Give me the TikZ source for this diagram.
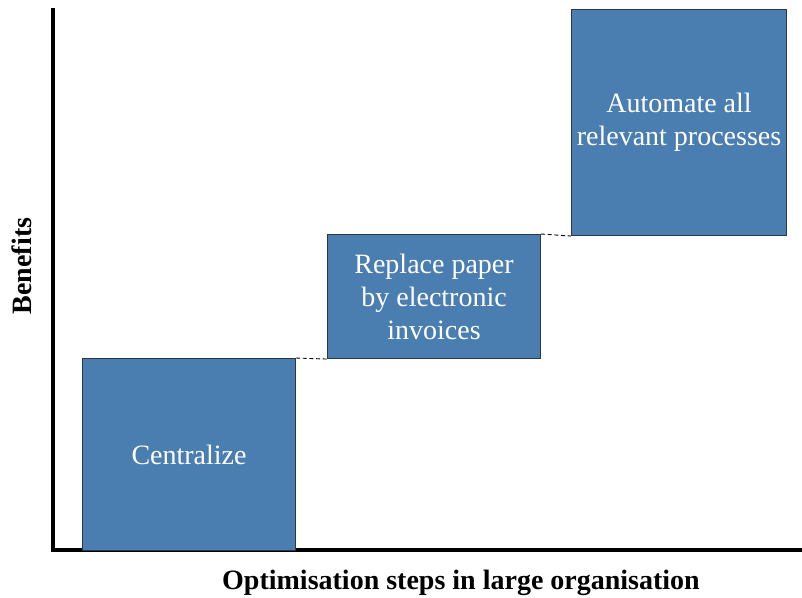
\documentclass[tikz,border=0pt]{standalone}
\usepackage{fontspec}
\setmainfont{Liberation Serif}
\usepackage{tikz}
\usetikzlibrary{positioning, calc}

\definecolor{stepblue}{RGB}{74,126,176}
\definecolor{stepedge}{RGB}{45,55,68}

\begin{document}
\begin{tikzpicture}[x=0.75pt, y=-0.75pt]
            % Define styles
            \tikzstyle{stepbox} = [rectangle, draw=stepedge, line width=0.8pt, fill=stepblue, text=white, align=center, anchor=north west, inner sep=0pt, font=\fontsize{21}{24.75}\selectfont]
            \tikzstyle{axis} = [draw, line width=2.3pt]
            \tikzstyle{link} = [draw, densely dashed, line width=0.7pt, black]
            \tikzstyle{axislabel} = [font=\fontsize{21}{24}\selectfont\bfseries]

            \useasboundingbox (0,0) rectangle (802,598);

            % Axes
            \coordinate (origin) at (53,550);
            \coordinate (ytop) at (53,8);
            \coordinate (xend) at (802,550);
            \draw[axis] (ytop) -- (origin) -- (xend);

            % Steps
            \node[stepbox, minimum width=213*0.75pt, minimum height=192*0.75pt] (cent) at (82,358) {Centralize};
            \node[stepbox, minimum width=213*0.75pt, minimum height=124*0.75pt] (repl) at (327,234) {Replace paper\\by electronic\\invoices};
            \node[stepbox, minimum width=215*0.75pt, minimum height=226*0.75pt, text depth=4.5pt] (auto) at (571,9) {Automate all\\relevant processes};

            % Dotted links between steps
            \draw[link] (cent.north east) -- (repl.south west);
            \draw[link] (repl.north east) -- (auto.south west);

            % Axis labels
            \node[axislabel, rotate=90] (benefits) at (22,266) {Benefits};
            \node[axislabel] (steps) at (461,583) {Optimisation steps in large organisation};
\end{tikzpicture}
\end{document}
